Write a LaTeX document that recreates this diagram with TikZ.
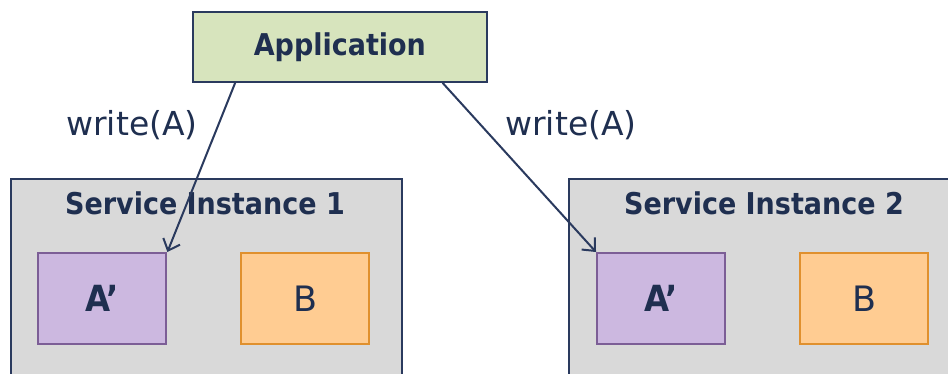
\documentclass[tikz,border=0pt]{standalone}
\usepackage{fontspec}
\setmainfont{DejaVu Sans}
\newfontfamily\condbold{DejaVu Sans Condensed}[BoldFont={DejaVu Sans Condensed Bold}]
\usetikzlibrary{arrows.meta,calc}
\definecolor{navy}{HTML}{2A3A5E}
\definecolor{appfill}{HTML}{D7E4BD}
\definecolor{svcfill}{HTML}{D9D9D9}
\definecolor{afill}{HTML}{CCB8E0}
\definecolor{adraw}{HTML}{7C5E96}
\definecolor{bfill}{HTML}{FFCC92}
\definecolor{bdraw}{HTML}{E0902E}
\definecolor{txt}{HTML}{1F2F50}
\tikzset{
  box/.style={draw, rectangle, inner sep=0pt, anchor=north west, line width=1.8pt},
  appbox/.style={box, fill=appfill, draw=navy, minimum width=294pt, minimum height=70pt,
     font=\condbold\bfseries\fontsize{30}{30}\selectfont, text=txt},
  svcbox/.style={box, fill=svcfill, draw=navy, minimum width=391pt, minimum height=260pt},
  abox/.style={box, fill=afill, draw=adraw, line width=2.4pt, minimum width=128pt, minimum height=91pt,
     font=\condbold\bfseries\fontsize{36}{36}\selectfont, text=txt},
  bbox/.style={box, fill=bfill, draw=bdraw, line width=2.4pt, minimum width=128pt, minimum height=91pt,
     font=\fontsize{35}{35}\selectfont, text=txt},
  title/.style={font=\condbold\bfseries\fontsize{30}{30}\selectfont, text=txt, inner sep=0pt},
  lbl/.style={font=\fontsize{33}{33}\selectfont, text=txt, inner sep=0pt},
  conn/.style={draw=navy, line width=2pt, -{Straight Barb[length=10pt,width=18pt,line width=2pt]}}
}
\begin{document}
\begin{tikzpicture}[x=1pt,y=-1pt]
\useasboundingbox (0,0) rectangle (948,373);
\clip (0,0) rectangle (948,373);
\fill[white] (0,0) rectangle (948,373);
\node[svcbox] (s1) at (10,178) {};
\node[svcbox, minimum width=420pt] (s2) at (568,178) {};
\node[title] (t1) at (205,203) {Service Instance 1};
\node[title] (t2) at (764,203) {Service Instance 2};
\node[abox] (a1) at (37,252) {A’};
\node[bbox] (b1) at (240,252) {B};
\node[abox] (a2) at (596,252) {A’};
\node[bbox] (b2) at (799,252) {B};
\node[appbox] (app) at (192,11) {Application};
\node[lbl] (l1) at (132,125) {write(A)};
\node[lbl] (l2) at (571,125) {write(A)};
\draw[conn] ($(app.south west)!0.146!(app.south east)$) -- (a1.north east);
\draw[conn] ($(app.south west)!0.847!(app.south east)$) -- (a2.north west);
\end{tikzpicture}
\end{document}
